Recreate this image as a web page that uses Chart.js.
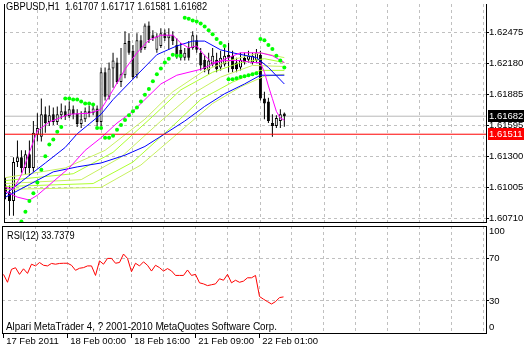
<!DOCTYPE html>
<html>
<head>
<meta charset="utf-8">
<script src="https://cdn.jsdelivr.net/npm/chart.js@4.4.1/dist/chart.umd.min.js"></script>
<style>
  body { margin: 0; background: #fff; }
  #wrap { position: relative; width: 524px; height: 351px; overflow: hidden;
          font: 10px "Liberation Sans", Arial, sans-serif; }
  canvas { position: absolute; left: 0; }
  .txt { position: absolute; white-space: nowrap; color: #000; line-height: 12px; transform-origin: 0 0; }
</style>
</head>
<body>
<div id="wrap">
  <canvas id="main" width="524" height="226" style="top:0"></canvas>
  <canvas id="rsi" width="524" height="125" style="top:226px"></canvas>
  <div class="txt" style="left:6px;top:1px;transform:scaleX(0.93)">GBPUSD,H1&nbsp;&nbsp;1.61707 1.61717 1.61581 1.61682</div>
  <div class="txt" style="left:7px;top:230px;transform:scaleX(0.92)">RSI(12) 33.7379</div>
  <div class="txt" style="left:6px;top:321px;transform:scaleX(0.98)">Alpari MetaTrader 4, ? 2001-2010 MetaQuotes Software Corp.</div>
</div>
<script>
const FONT = '"Liberation Sans", Arial, sans-serif';
Chart.defaults.font.family = FONT;
Chart.defaults.font.size = 9.5;
Chart.defaults.color = '#000';

// H1 bars, 17 Feb 2011 08:00 .. 22 Feb 2011 07:00 (bar index 0..70)
const opens = [1.61025,1.60960,1.60877,1.61247,1.61293,1.61191,1.61321,1.61191,1.61506,1.61488,
  1.61701,1.61627,1.61701,1.61627,1.61691,1.61728,1.61682,1.61747,1.61710,1.61608,
  1.61654,1.61728,1.61710,1.61756,1.61627,1.62099,1.61867,1.62136,1.62191,1.62006,
  1.62071,1.62395,1.62303,1.62071,1.62404,1.62330,1.62543,1.62451,1.62312,1.62349,
  1.62469,1.62423,1.62451,1.62358,1.62312,1.62238,1.62330,1.62330,1.62404,1.62284,
  1.62219,1.62117,1.62173,1.62219,1.62145,1.62173,1.62266,1.62256,1.62191,1.62145,
  1.62238,1.62219,1.62191,1.62210,1.62266,1.61849,1.61821,1.61617,1.61590,1.61636,
  1.61707];
const highs = [1.61099,1.61025,1.61293,1.61451,1.61358,1.61358,1.61451,1.61636,1.61710,1.61849,
  1.61775,1.61784,1.61765,1.61775,1.61803,1.61784,1.61821,1.61784,1.61747,1.61728,
  1.61765,1.61784,1.61803,1.61784,1.62145,1.62145,1.62191,1.62284,1.62238,1.62330,
  1.62488,1.62469,1.62358,1.62469,1.62451,1.62562,1.62580,1.62497,1.62469,1.62516,
  1.62506,1.62516,1.62488,1.62423,1.62377,1.62330,1.62395,1.62488,1.62451,1.62330,
  1.62266,1.62284,1.62330,1.62284,1.62303,1.62330,1.62377,1.62303,1.62238,1.62284,
  1.62284,1.62303,1.62284,1.62321,1.62303,1.61914,1.61858,1.61701,1.61691,1.61747,
  1.61717];
const lows = [1.60895,1.60738,1.60738,1.61201,1.61145,1.61127,1.61117,1.61154,1.61441,1.61441,
  1.61525,1.61590,1.61599,1.61599,1.61654,1.61645,1.61664,1.61654,1.61580,1.61571,
  1.61627,1.61673,1.61691,1.61590,1.61590,1.61830,1.61840,1.61951,1.61988,1.61960,
  1.62043,1.62266,1.62034,1.62043,1.62284,1.62312,1.62377,1.62395,1.62284,1.62330,
  1.62395,1.62312,1.62358,1.62228,1.62210,1.62210,1.62210,1.62312,1.62284,1.62117,
  1.62099,1.62080,1.62154,1.62099,1.62117,1.62154,1.62099,1.62099,1.62099,1.62117,
  1.62173,1.62191,1.62173,1.62191,1.61830,1.61654,1.61617,1.61488,1.61571,1.61571,
  1.61581];
const closes = [1.60960,1.60877,1.61247,1.61293,1.61191,1.61321,1.61191,1.61525,1.61571,1.61701,
  1.61617,1.61691,1.61627,1.61701,1.61728,1.61682,1.61747,1.61701,1.61608,1.61654,
  1.61728,1.61710,1.61756,1.61627,1.62099,1.61867,1.62136,1.62210,1.62006,1.62080,
  1.62377,1.62284,1.62053,1.62404,1.62312,1.62543,1.62404,1.62423,1.62441,1.62469,
  1.62423,1.62451,1.62395,1.62256,1.62238,1.62284,1.62238,1.62451,1.62312,1.62164,
  1.62127,1.62210,1.62256,1.62127,1.62238,1.62256,1.62238,1.62127,1.62127,1.62219,
  1.62191,1.62256,1.62256,1.62284,1.61849,1.61803,1.61636,1.61590,1.61664,1.61701,
  1.61682];

// Parabolic SAR
const sar = [null,null,null,null,1.60682,1.60775,1.60877,1.60951,1.61052,1.61173,
  1.61302,1.61414,1.61460,1.61534,1.61580,1.61849,1.61849,1.61840,1.61840,1.61821,
  1.61803,1.61803,1.61793,1.61571,1.61571,1.61478,1.61478,1.61497,1.61553,1.61599,
  1.61645,1.61691,1.61728,1.61765,1.61821,1.61886,1.61941,1.62015,1.62080,1.62136,
  1.62191,1.62228,1.62266,1.62256,1.62256,1.62617,1.62608,1.62590,1.62580,1.62562,
  1.62534,1.62497,1.62460,1.62414,1.62377,1.62349,1.62034,1.62034,1.62043,1.62053,
  1.62062,1.62071,1.62080,1.62090,1.62414,1.62404,1.62358,1.62321,1.62256,1.62210,
  1.62145];

// moving averages, read at selected bars
const maFastBars = [0,2,4,6,8,11,16,21,24,27,30,33,36,39,42,44,46,48,50,52,55,59,62,64,65,66,67,68,69,70];
const maFast = [1.61006,1.60988,1.61127,1.61339,1.61543,1.61627,1.61701,1.61710,1.61747,1.61932,
  1.62127,1.62284,1.62404,1.62451,1.62451,1.62377,1.62330,1.62349,1.62256,1.62191,
  1.62210,1.62210,1.62191,1.62191,1.62099,1.61969,1.61849,1.61728,1.61664,1.61645];
const maSlowBars = [0,3,6,8,12,16,20,24,28,32,35,39,43,49,53,56,59,64,67,70];
const maSlow = [1.60969,1.60914,1.60886,1.60932,1.61062,1.61191,1.61358,1.61478,1.61617,1.61728,
  1.61840,1.61988,1.62071,1.62127,1.62191,1.62238,1.62284,1.62284,1.62256,1.62191];
const blueFastBars = [0,4,10,15,18,21,24,27,32,38,43,47,50,54,57,63,66,70];
const blueFast = [1.60941,1.61062,1.61238,1.61386,1.61515,1.61608,1.61701,1.61840,1.62034,1.62266,
  1.62349,1.62395,1.62395,1.62312,1.62284,1.62238,1.62145,1.61988];
const blueSlowBars = [0,6,12,18,24,30,35,40,45,50,55,60,64,70];
const blueSlow = [1.60914,1.61034,1.61154,1.61201,1.61238,1.61312,1.61395,1.61515,1.61636,1.61775,
  1.61895,1.61988,1.62071,1.62071];
const fan1Bars = [0,15,25,35,42,50,57,64,70];
const fan1 = [1.61099,1.61191,1.61358,1.61654,1.61914,1.62117,1.62219,1.62284,1.62238];
const fan2Bars = [0,17,27,37,44,52,59,65,70];
const fan2 = [1.61071,1.61136,1.61339,1.61682,1.61932,1.62099,1.62191,1.62228,1.62191];
const fan3Bars = [0,19,29,39,47,54,62,70];
const fan3 = [1.61043,1.61080,1.61293,1.61636,1.61895,1.62053,1.62164,1.62154];
const fan4Bars = [0,22,32,42,49,57,64,70];
const fan4 = [1.61015,1.61043,1.61247,1.61590,1.61840,1.62006,1.62117,1.62117];
const fan5Bars = [0,24,34,44,52,59,65,70];
const fan5 = [1.60988,1.61006,1.61219,1.61543,1.61803,1.61960,1.62062,1.62080];

const rsi = [54.8,47.4,59.5,61.0,54.8,60.0,55.7,64.3,62.7,65.9,
  63.3,62.7,65.0,64.3,65.0,65.2,65.2,63.3,58.6,60.5,
  61.1,62.7,62.7,53.8,67.4,64.3,69.7,69.7,65.2,65.9,
  73.8,69.7,57.3,65.2,62.7,66.5,63.3,57.9,63.3,61.1,
  57.9,60.2,58.0,53.8,53.8,53.8,58.9,53.8,54.8,46.9,
  45.9,44.3,45.1,45.9,50.7,49.3,54.8,46.9,49.3,47.4,
  48.5,51.6,51.6,53.8,34.1,31.6,29.3,27.1,29.3,33.1,
  33.74];

const bidPrice = 1.61682;
const levelPrice = 1.61511;
const priceTicks = [1.62475, 1.62180, 1.61885, 1.61595, 1.61300, 1.61005, 1.60710];
const priceTickLabels = ['1.62475', '1.62180', '1.61885', '1.61595', '1.61300', '1.61005', '1.60710'];
const timeLabelBars = [0, 16, 32, 48, 64];
const timeLabels = ['17 Feb 2011', '18 Feb 00:00', '18 Feb 16:00', '21 Feb 09:00', '22 Feb 01:00'];
const rsiLevels = [70, 30];
// where the 100 / 0 captions sit (inside the window, as the terminal draws them)
const rsiCaptionPos = { 95: '100', 70: '70', 30: '30', 5: '0' };

const xMin = -0.375, xMax = 120.625;
const priceMin = 1.60678, priceMax = 1.62747;
const gridGray = '#c0c0c0';
const clear = 'rgba(0,0,0,0)';
const gridBars = [];
for (let b = 8; b <= 120; b += 8) gridBars.push(b);

const pts = (bars, vals) => bars.map((b, i) => ({ x: b, y: vals[i] }));
const lineSet = (bars, vals, color, order) => ({
  type: 'line', data: pts(bars, vals), borderColor: color, borderWidth: 1,
  pointRadius: 0, tension: 0, order
});

// frame lines MT4 draws round each window
const frame = {
  id: 'frame',
  afterDraw(chart, args, opts) {
    const { ctx, chartArea: a } = chart;
    ctx.save();
    ctx.strokeStyle = '#000';
    ctx.lineWidth = 1;
    ctx.beginPath();
    ctx.moveTo(a.left + 0.5, a.top);
    ctx.lineTo(a.left + 0.5, a.bottom);
    if (opts.top) {
      ctx.moveTo(a.left, a.top + 0.5);
      ctx.lineTo(a.right + 1, a.top + 0.5);
    }
    ctx.stroke();
    ctx.restore();
  }
};

// price tags on the right scale
const priceTags = {
  id: 'priceTags',
  afterDraw(chart) {
    const { ctx } = chart;
    const y = chart.scales.y;
    const tag = (price, bg) => {
      const py = Math.round(y.getPixelForValue(price));
      ctx.save();
      ctx.fillStyle = bg;
      ctx.fillRect(488, py - 6, 36, 12);
      ctx.fillStyle = '#fff';
      ctx.font = '9.5px ' + FONT;
      ctx.textBaseline = 'middle';
      ctx.fillText(price.toFixed(5), 489, py + 0.5);
      ctx.restore();
    };
    tag(bidPrice, '#000');
    tag(levelPrice, '#ff0000');
  }
};

new Chart(document.getElementById('main'), {
  type: 'bar',
  data: {
    datasets: [
      { type: 'line', data: [{ x: xMin, y: bidPrice }, { x: xMax, y: bidPrice }],
        borderColor: '#b8b8b8', borderWidth: 1, pointRadius: 0, order: 40 },
      { data: closes.map((c, i) => ({ x: i, y: [lows[i], highs[i]] })),
        backgroundColor: '#000', barThickness: 1, grouped: false, inflateAmount: 0, order: 30 },
      { data: closes.map((c, i) => ({ x: i, y: [opens[i], c] })),
        backgroundColor: closes.map((c, i) => c >= opens[i] ? '#fff' : '#000'),
        borderColor: '#000', borderWidth: 1, borderSkipped: false, minBarLength: 1,
        barThickness: 3, grouped: false, inflateAmount: 0, order: 20 },
      lineSet(fan5Bars, fan5, '#c8f060', 9),
      lineSet(fan4Bars, fan4, '#adff2f', 8),
      lineSet(fan3Bars, fan3, '#c8f060', 7),
      lineSet(fan2Bars, fan2, '#adff2f', 6),
      lineSet(fan1Bars, fan1, '#c8f060', 5),
      lineSet(blueSlowBars, blueSlow, '#0000ff', 4),
      lineSet(blueFastBars, blueFast, '#0000ff', 3),
      lineSet(maSlowBars, maSlow, '#ff00ff', 2),
      lineSet(maFastBars, maFast, '#ff00ff', 1),
      { type: 'line', data: [{ x: xMin, y: levelPrice }, { x: xMax, y: levelPrice }],
        borderColor: '#ff0000', borderWidth: 1, pointRadius: 0, order: 0 },
      { type: 'line', showLine: false,
        data: sar.map((v, i) => ({ x: i, y: v })).filter(p => p.y !== null),
        pointRadius: 2, pointBackgroundColor: '#00ff00', pointBorderWidth: 0, order: -1 }
    ]
  },
  options: {
    responsive: false, animation: false, events: [],
    layout: { padding: { left: 2, top: 0, right: 0, bottom: 0 } },
    plugins: { legend: { display: false }, tooltip: { enabled: false }, frame: { top: false } },
    scales: {
      x: {
        type: 'linear', min: xMin, max: xMax, offset: false,
        afterBuildTicks: s => { s.ticks = gridBars.map(v => ({ value: v })); },
        afterFit: s => { s.height = 2; s.paddingLeft = 0; s.paddingRight = 0; },
        ticks: { display: false },
        grid: { color: gridGray, drawTicks: false, offset: false },
        border: { color: '#000', dash: [3, 3] }
      },
      y: {
        position: 'right', min: priceMin, max: priceMax,
        afterBuildTicks: s => { s.ticks = priceTicks.map(v => ({ value: v })); },
        afterFit: s => { s.width = 38; s.paddingTop = 0; s.paddingBottom = 0; },
        ticks: { callback: (v, i) => priceTickLabels[i], padding: 0, autoSkip: false },
        grid: { color: gridGray, tickColor: '#000', tickLength: 3 },
        border: { color: '#000', dash: [3, 3] }
      }
    }
  },
  plugins: [frame, priceTags]
});

new Chart(document.getElementById('rsi'), {
  type: 'line',
  data: {
    datasets: [{
      data: rsi.map((v, i) => ({ x: i, y: v })),
      borderColor: '#ff0000', borderWidth: 1, pointRadius: 0, tension: 0
    }]
  },
  options: {
    responsive: false, animation: false, events: [],
    layout: { padding: { left: 2, top: 0, right: 0, bottom: 0 } },
    plugins: { legend: { display: false }, tooltip: { enabled: false }, frame: { top: true } },
    scales: {
      x: {
        type: 'linear', min: xMin, max: xMax, offset: false,
        afterBuildTicks: s => {
          const t = [0];
          gridBars.forEach(b => t.push(b));
          s.ticks = t.map(v => ({ value: v }));
        },
        afterFit: s => { s.height = 18; s.paddingLeft = 0; s.paddingRight = 0; },
        ticks: {
          autoSkip: false, maxRotation: 0, align: 'start', padding: -1,
          font: { size: 9.5, lineHeight: 1 },
          callback: v => {
            const k = timeLabelBars.indexOf(v);
            return k >= 0 ? ' ' + timeLabels[k] : '';
          }
        },
        grid: {
          color: c => (c.tick && c.tick.value === 0) ? clear : gridGray,
          tickColor: c => (c.tick && timeLabelBars.includes(c.tick.value)) ? '#000' : clear,
          tickLength: 5, offset: false
        },
        border: { color: '#000', dash: [3, 3] }
      },
      y: {
        position: 'right', min: 0, max: 100,
        afterBuildTicks: s => { s.ticks = [95, 70, 30, 5].map(v => ({ value: v })); },
        afterFit: s => { s.width = 38; s.paddingTop = 0; s.paddingBottom = 0; },
        ticks: { callback: v => rsiCaptionPos[v], padding: 0, autoSkip: false },
        grid: {
          color: c => (c.tick && rsiLevels.includes(c.tick.value)) ? gridGray : clear,
          tickColor: c => (c.tick && rsiLevels.includes(c.tick.value)) ? '#000' : clear,
          tickLength: 3
        },
        border: { color: '#000', dash: [3, 3] }
      }
    }
  },
  plugins: [frame]
});
</script>
</body>
</html>
